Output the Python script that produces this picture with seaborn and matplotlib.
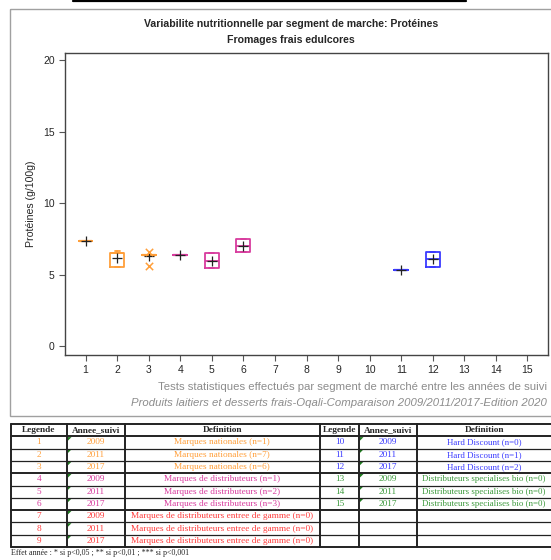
import matplotlib
matplotlib.use("Agg")
import matplotlib.pyplot as plt
import seaborn as sns
import pandas as pd
import numpy as np

# --- data ---
positions = [1, 2, 3, 4, 5, 6, 11, 12]
q1 = [7.34, 5.52, 6.36, 6.37, 5.45, 6.57, 5.31, 5.52]
med = [7.34, 6.50, 6.36, 6.37, 5.95, 7.05, 5.31, 6.08]
q3 = [7.34, 6.50, 6.36, 6.37, 6.50, 7.48, 5.31, 6.57]
whi_lo = [7.34, 5.52, 6.36, 6.37, 5.45, 6.57, 5.31, 5.52]
whi_hi = [7.34, 6.64, 6.36, 6.37, 6.50, 7.48, 5.31, 6.57]
means = [7.34, 6.15, 6.30, 6.37, 5.95, 7.05, 5.31, 6.08]
out_pos = [3, 3]
out_val = [6.57, 5.60]

orange = "#FF9F3A"
magenta = "#D83C9E"
red = "#FF3B3B"
blue = "#3A3AFF"
green = "#3C9A3C"
box_colors = [orange, orange, orange, magenta, magenta, magenta, blue, blue]

leg_left = ["1", "2", "3", "4", "5", "6", "7", "8", "9"]
leg_right = ["10", "11", "12", "13", "14", "15", "", "", ""]
years = ["2009", "2011", "2017"] * 3
def_left = ["Marques nationales (n=1)", "Marques nationales (n=7)", "Marques nationales (n=6)",
            "Marques de distributeurs (n=1)", "Marques de distributeurs (n=2)", "Marques de distributeurs (n=3)",
            "Marques de distributeurs entree de gamme (n=0)", "Marques de distributeurs entree de gamme (n=0)",
            "Marques de distributeurs entree de gamme (n=0)"]
def_right = ["Hard Discount (n=0)", "Hard Discount (n=1)", "Hard Discount (n=2)",
             "Distributeurs specialises bio (n=0)", "Distributeurs specialises bio (n=0)",
             "Distributeurs specialises bio (n=0)", "", "", ""]
row_col_left = [orange] * 3 + [magenta] * 3 + [red] * 3
row_col_right = [blue] * 3 + [green] * 3 + ["k"] * 3

sns.set_theme(style="ticks")
plt.rcParams['font.family'] = ['Liberation Sans', 'DejaVu Sans']

fig = plt.figure(figsize=(5.51, 5.6), dpi=100)

# overlay in pixel coords for frame, titles and table
ov = fig.add_axes([0, 0, 1, 1])
ov.set_xlim(0, 551)
ov.set_ylim(560, 0)
ov.axis("off")

ax = fig.add_axes([65 / 551, 1 - 355 / 560, 483 / 551, 302 / 560])

stats = []
for i in range(len(positions)):
    stats.append(dict(q1=q1[i], med=med[i], q3=q3[i], whislo=whi_lo[i], whishi=whi_hi[i],
                      mean=means[i], fliers=[]))
bp = ax.bxp(stats, positions=positions, widths=0.44, capwidths=0.16,
            showmeans=False, showfliers=False, manage_ticks=False)
for i, c in enumerate(box_colors):
    bp["boxes"][i].set(color=c, linewidth=1.3)
    bp["medians"][i].set(color=c, linewidth=1.6 if q1[i] == q3[i] else 1.3)
    for j in (2 * i, 2 * i + 1):
        bp["whiskers"][j].set(color=c, linewidth=1.3)
        bp["caps"][j].set(color=c, linewidth=1.3)

mean_df = pd.DataFrame({"x": positions, "y": means})
sns.scatterplot(data=mean_df, x="x", y="y", marker="+", color="#222222", s=60,
                linewidth=0.9, ax=ax, zorder=5)
out_df = pd.DataFrame({"x": out_pos, "y": out_val})
sns.scatterplot(data=out_df, x="x", y="y", marker="x", color=orange, s=28,
                linewidth=1.1, ax=ax, zorder=5)

ax.set_xlim(0.35, 15.65)
ax.set_ylim(-0.6, 20.5)
ax.set_xticks(range(1, 16))
ax.set_yticks([0, 5, 10, 15, 20])
ax.set_xlabel("")
ax.set_ylabel("Protéines (g/100g)", fontsize=7.6, labelpad=5)
ax.tick_params(labelsize=7.5, length=4, width=0.8, color="#555555")
for s in ax.spines.values():
    s.set_color("#444444")
    s.set_linewidth(1)

# outer frame and cut heading line
ov.add_patch(plt.Rectangle((10, 9), 560, 407, fill=False, edgecolor="#A0A0A0", lw=1))
ov.plot([73, 466], [0.6, 0.6], color="black", lw=1.6)

ov.text(291, 24, "Variabilite nutritionnelle par segment de marche: Protéines",
        ha="center", va="center", fontsize=7.6, fontweight="bold")
ov.text(291, 40, "Fromages frais edulcores", ha="center", va="center",
        fontsize=7.6, fontweight="bold")
ov.text(547, 387, "Tests statistiques effectués par segment de marché entre les années de suivi",
        ha="right", va="center", fontsize=8.2, color="#8C8C8C")
ov.text(547, 403, "Produits laitiers et desserts frais-Oqali-Comparaison 2009/2011/2017-Edition 2020",
        ha="right", va="center", fontsize=8.2, color="#8C8C8C", style="italic")

# table
top = 424
rh = 12.3
cols = [11, 67, 125, 320, 359, 417, 560]
serif = ["Liberation Serif", "DejaVu Serif"]
fs = 6.7
heads = ["Legende", "Annee_suivi", "Definition", "Legende", "Annee_suivi", "Definition"]
for k in range(6):
    ov.text((cols[k] + cols[k + 1]) / 2 if k < 5 else 485, top + rh / 2, heads[k],
            ha="center", va="center", fontsize=fs, fontweight="bold", family=serif)
for r in range(10):
    y = top + r * rh
    lw = 1.4 if r in (0, 1, 4, 7) else 0.9
    ov.plot([cols[0], 560], [y, y], color="#222222", lw=lw)
ov.plot([cols[0], 560], [top + 10 * rh, top + 10 * rh], color="#222222", lw=1.4)
for cx in cols[:-1]:
    ov.plot([cx, cx], [top, top + 10 * rh], color="#222222", lw=1.4)

for r in range(9):
    yc = top + (r + 1.5) * rh
    ov.text(39, yc, leg_left[r], ha="center", va="center", fontsize=fs, color=row_col_left[r], family=serif)
    ov.text(96, yc, years[r], ha="center", va="center", fontsize=fs, color=row_col_left[r], family=serif)
    ov.text(222, yc, def_left[r], ha="center", va="center", fontsize=fs, color=row_col_left[r], family=serif)
    ov.fill([68, 71.5, 68], [top + (r + 1) * rh + 0.8] * 2 + [top + (r + 1) * rh + 4.3], color="#1E7A1E", lw=0)
    if leg_right[r]:
        ov.text(339.5, yc, leg_right[r], ha="center", va="center", fontsize=fs, color=row_col_right[r], family=serif)
        ov.text(388, yc, years[r], ha="center", va="center", fontsize=fs, color=row_col_right[r], family=serif)
        ov.text(484, yc, def_right[r], ha="center", va="center", fontsize=6.4, color=row_col_right[r], family=serif)
        ov.fill([360, 363.5, 360], [top + (r + 1) * rh + 0.8] * 2 + [top + (r + 1) * rh + 4.3], color="#1E7A1E", lw=0)

ov.text(11, 553, "Effet année : * si p<0,05 ; ** si p<0,01 ; *** si p<0,001",
        ha="left", va="center", fontsize=5.8, family=serif)

fig.savefig("out.png", dpi=100)
